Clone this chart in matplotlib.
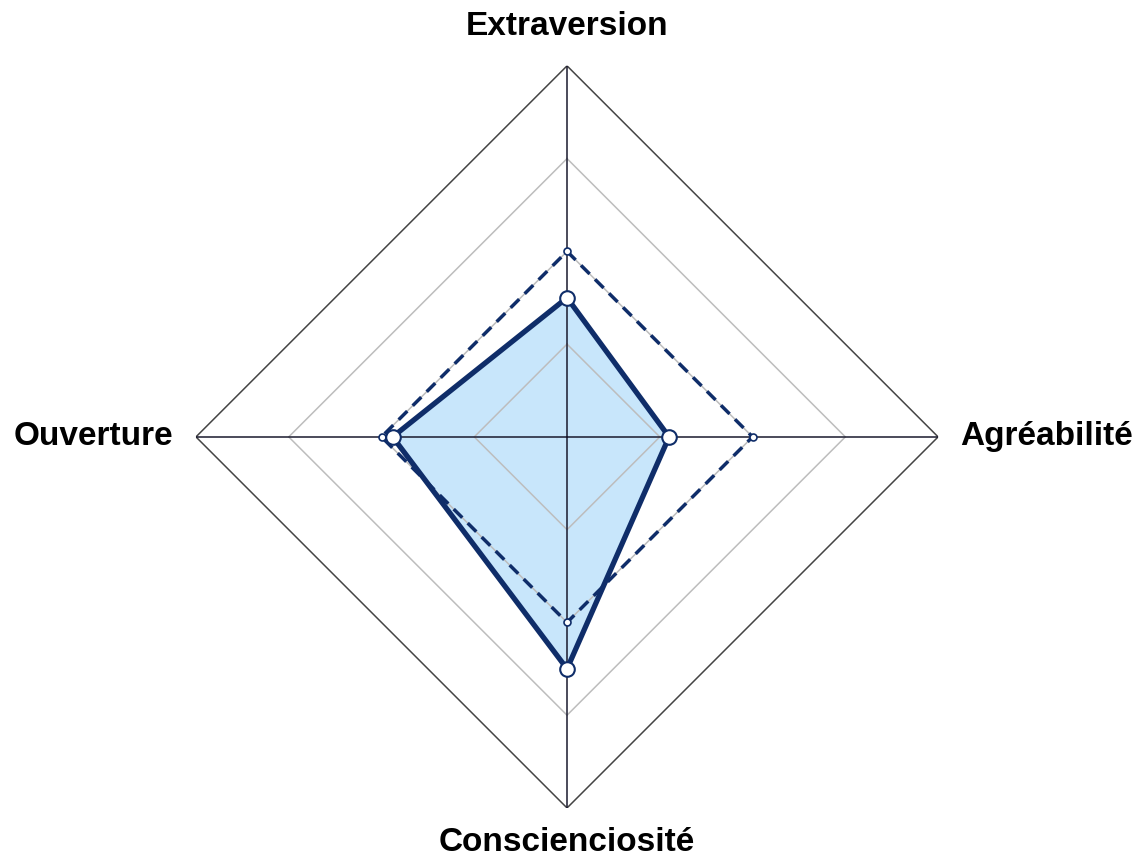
import numpy as np
import matplotlib.pyplot as plt

plt.rcParams['font.family'] = ['Liberation Sans', 'DejaVu Sans']

# donnees
traits = ['Extraversion', 'Agréabilité', 'Conscienciosité', 'Ouverture']
profil = [37.5, 27.5, 62.5, 47]
moyenne = [50, 50, 50, 50]
niveaux = [25, 50, 75, 100]

navy = '#0f2d69'
fill_col = '#c8e6fb'

ang = np.linspace(0, 2 * np.pi, len(traits), endpoint=False)
ang_c = np.append(ang, ang[0])

fig = plt.figure(figsize=(11.4, 8.57), dpi=100)
ax = fig.add_axes([0.1719, 0.0572, 0.651, 0.866], projection='polar')
ax.set_theta_offset(np.pi / 2)
ax.set_theta_direction(-1)
ax.set_ylim(0, 100)
ax.grid(False)
ax.spines['polar'].set_visible(False)
ax.set_xticks([])
ax.set_yticks([])

# remplissage du profil
p = np.append(profil, profil[0])
ax.fill(ang_c, p, color=fill_col, zorder=1)

# grille en losange
for lv in niveaux:
    r = np.full(len(ang_c), lv)
    if lv == 100:
        ax.plot(ang_c, r, color='#444444', lw=1.1, zorder=2)
    else:
        ax.plot(ang_c, r, color='#bdbdbd', lw=1.1, zorder=2)
for a in ang:
    ax.plot([a, a], [0, 100], color='#1a1a2e', lw=1.1, zorder=2)

# moyenne (pointilles)
m = np.append(moyenne, moyenne[0])
ax.plot(ang_c, m, color=navy, lw=2.5, ls=(0, (3.5, 2.2)), zorder=3)
ax.plot(ang, moyenne, 'o', color='white', mec=navy, mew=1.2, ms=5, zorder=4)

# profil
ax.plot(ang_c, p, color=navy, lw=3.8, zorder=5)
ax.plot(ang, profil, 'o', color='white', mec=navy, mew=1.5, ms=10.5, zorder=6)

# etiquettes
fs = 24
ax.text(0, 110.7, traits[0], ha='center', va='center', fontsize=fs, fontweight='bold')
ax.text(np.pi / 2, 106, traits[1], ha='left', va='center', fontsize=fs, fontweight='bold')
ax.text(np.pi, 109.4, traits[2], ha='center', va='center', fontsize=fs, fontweight='bold')
ax.text(3 * np.pi / 2, 106, traits[3], ha='right', va='center', fontsize=fs, fontweight='bold')

fig.savefig('out.png', dpi=100)
